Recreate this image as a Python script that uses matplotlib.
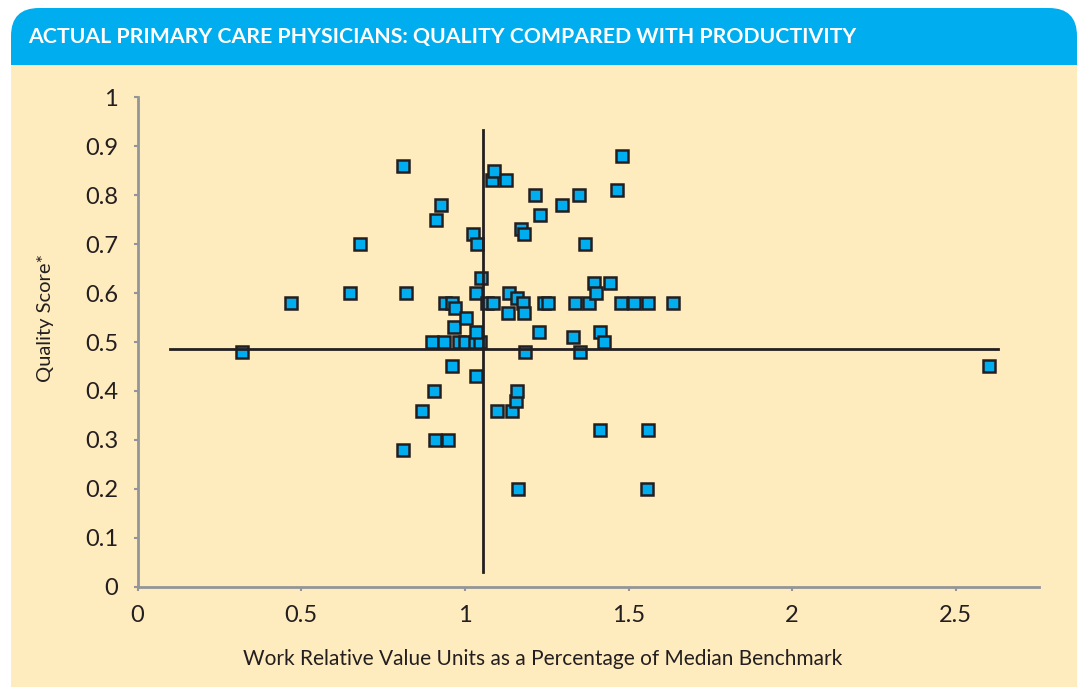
import matplotlib
matplotlib.use('Agg')
import matplotlib.pyplot as plt
from matplotlib.patches import FancyBboxPatch, Rectangle

plt.rcParams['font.family'] = ['Lato', 'DejaVu Sans']

# work RVUs as share of median benchmark vs quality score, one point per physician
rvu = [0.32, 0.47, 0.65, 0.68, 0.81, 0.82, 0.81, 0.87, 0.905, 0.91, 0.95,
       0.913, 0.928, 0.90, 0.935, 0.94, 0.96, 0.97, 0.96, 0.968, 0.982, 0.999,
       1.003, 1.026, 1.038, 1.03, 1.046, 1.033, 1.034, 1.034, 1.05, 1.067,
       1.082, 1.089, 1.086, 1.097, 1.125, 1.132, 1.136, 1.145, 1.155, 1.158,
       1.16, 1.163, 1.171, 1.18, 1.178, 1.18, 1.183, 1.214, 1.226, 1.23,
       1.242, 1.255, 1.297, 1.331, 1.337, 1.348, 1.352, 1.368, 1.379, 1.394,
       1.40, 1.412, 1.414, 1.426, 1.442, 1.465, 1.477, 1.481, 1.516, 1.555,
       1.56, 1.56, 1.635, 2.60]
quality = [0.48, 0.58, 0.60, 0.70, 0.86, 0.60, 0.28, 0.36, 0.40, 0.30, 0.30,
           0.75, 0.78, 0.50, 0.50, 0.58, 0.58, 0.57, 0.45, 0.53, 0.50, 0.50,
           0.55, 0.72, 0.70, 0.50, 0.50, 0.52, 0.60, 0.43, 0.63, 0.58,
           0.83, 0.85, 0.58, 0.36, 0.83, 0.56, 0.60, 0.36, 0.38, 0.59,
           0.40, 0.20, 0.73, 0.72, 0.58, 0.56, 0.48, 0.80, 0.52, 0.76,
           0.58, 0.58, 0.78, 0.51, 0.58, 0.80, 0.48, 0.70, 0.58, 0.62,
           0.60, 0.52, 0.32, 0.50, 0.62, 0.81, 0.58, 0.88, 0.58, 0.20,
           0.58, 0.32, 0.58, 0.45]

# reference (average) lines
rvu_ref = 1.055
rvu_ref_span = (0.03, 0.933)
quality_ref = 0.486
quality_ref_span = (0.099, 2.628)

xticks = [0, 0.5, 1, 1.5, 2, 2.5]
xlabels = ['0', '0.5', '1', '1.5', '2', '2.5']
yticks = [0, 0.1, 0.2, 0.3, 0.4, 0.5, 0.6, 0.7, 0.8, 0.9, 1]
ylabels = ['0', '0.1', '0.2', '0.3', '0.4', '0.5', '0.6', '0.7', '0.8', '0.9', '1']

W, H = 1077, 687
fig = plt.figure(figsize=(W / 100, H / 100), dpi=100)
fig.patch.set_facecolor('white')

# card background drawn in pixel units
bg = fig.add_axes([0, 0, 1, 1])
bg.set_xlim(0, W)
bg.set_ylim(H, 0)
bg.axis('off')
bg.add_patch(FancyBboxPatch((11, 8), W - 11, 300, boxstyle='round,pad=0,rounding_size=28',
                            facecolor='#00aeef', edgecolor='none'))
bg.add_patch(Rectangle((11, 65), W - 11, H, facecolor='#feebbe', edgecolor='none'))
bg.text(28, 37, 'ACTUAL PRIMARY CARE PHYSICIANS: QUALITY COMPARED WITH PRODUCTIVITY',
        color='white', fontsize=15.3, fontweight='bold', ha='left', va='center')
bg.text(45, 318, 'Quality Score*', rotation=90, fontsize=14.5, color='#231f20',
        ha='center', va='center')
bg.text(543, 659, 'Work Relative Value Units as a Percentage of Median Benchmark',
        fontsize=15, color='#231f20', ha='center', va='center')

ax = fig.add_axes([137.5 / W, (H - 586.7) / H, 901.5 / W, 489.4 / H])
ax.patch.set_alpha(0)
ax.plot(rvu, quality, 's', markersize=8.3, markerfacecolor='#00aeef',
        markeredgecolor='#231f20', markeredgewidth=1.8, zorder=3, clip_on=False)
ax.plot([rvu_ref, rvu_ref], rvu_ref_span, color='#231f20', lw=2, zorder=4)
ax.plot(quality_ref_span, [quality_ref, quality_ref], color='#231f20', lw=2, zorder=4)

ax.set_xlim(0, 2.754)
ax.set_ylim(0, 1)
ax.set_xticks(xticks)
ax.set_xticklabels(xlabels)
ax.set_yticks(yticks)
ax.set_yticklabels(ylabels)
ax.tick_params(colors='#939598', labelcolor='#231f20', labelsize=17,
               length=3, width=1.5)
ax.tick_params(axis='y', pad=11)
ax.tick_params(axis='x', pad=10)
for s in ['top', 'right']:
    ax.spines[s].set_visible(False)
for s in ['left', 'bottom']:
    ax.spines[s].set_color('#939598')
    ax.spines[s].set_linewidth(2)

plt.savefig('out.png', dpi=100)
plt.close()
